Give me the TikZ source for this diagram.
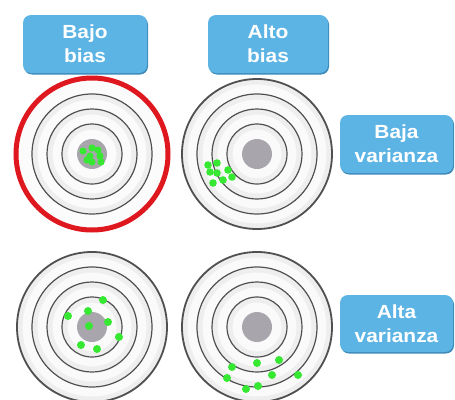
\documentclass[tikz,border=0pt]{standalone}
\usepackage{fontspec}
\newfontfamily\lblfont[FakeStretch=1.1]{Liberation Sans}
\usetikzlibrary{shadows}
\definecolor{boxblue}{RGB}{92,180,228}
\definecolor{boxshade}{RGB}{62,138,185}
\definecolor{dotgreen}{RGB}{55,232,50}
\definecolor{ringred}{RGB}{222,24,30}
\definecolor{ringgray}{RGB}{80,80,82}
\definecolor{bullgray}{RGB}{168,166,172}
\tikzset{
  lbl/.style={rounded corners=8pt, fill=boxblue, text=white, align=center,
    font=\lblfont\bfseries\fontsize{19}{24}\selectfont, inner sep=0pt,
    drop shadow={shadow xshift=1pt, shadow yshift=-1.5pt, fill=boxshade, opacity=1}},
  ringline/.style={ringgray, line width=1.2pt},
  ringshade/.style={gray!13, line width=5pt},
  dot/.style={fill=dotgreen},
  innerrings/.pic={
    \foreach \r in {60,45,30} {
      \draw[ringshade] (0,0) circle (\r pt - 3pt);
      \draw[ringline] (0,0) circle (\r pt);
    }
    \fill[bullgray] (0,0) circle (15pt);
  },
  target/.pic={
    \fill[gray!4] (0,0) circle (76pt);
    \draw[ringshade] (0,0) circle (72pt);
    \pic {innerrings};
    \draw[ringgray, line width=1.8pt] (0,0) circle (75pt);
  },
  redtarget/.pic={
    \fill[gray!3] (0,0) circle (76pt);
    \pic {innerrings};
    \draw[ringred, line width=5pt] (0,0) circle (76pt);
  }
}
\begin{document}
\begin{tikzpicture}[x=1pt,y=-1pt]
\useasboundingbox (0,0) rectangle (455,399);
\clip (0,0) rectangle (455,399);
\fill[white] (0,0) rectangle (455,399);

\coordinate (tl) at (92,154);
\coordinate (tr) at (257,154);
\coordinate (bl) at (92,327);
\coordinate (br) at (257,327);

\pic at (tl) {redtarget};
\pic at (tr) {target};
\pic at (bl) {target};
\pic at (br) {target};

% dots
\foreach \dx/\dy in {-9/-3,0/-6,6/-4,-2/2,8/2,0/8,9/8,-5/6}
  \fill[dot] (tl) ++(\dx,\dy) circle (3.6pt);
\foreach \dx/\dy in {-49/11,-40/9,-47/18,-40/19,-29/16,-34/26,-44/29,-25/23}
  \fill[dot] (tr) ++(\dx,\dy) circle (3.8pt);
\foreach \dx/\dy in {11/-27,-4/-16,-24/-11,16/-5,-3/-1,27/10,-11/18,5/22}
  \fill[dot] (bl) ++(\dx,\dy) circle (4pt);
\foreach \dx/\dy in {-25/40,0/36,22/33,-30/51,15/48,41/48,1/59,-11/62}
  \fill[dot] (br) ++(\dx,\dy) circle (4pt);

% labels
\node[lbl, minimum width=124pt, minimum height=58pt] (bajobias) at (85,44) {Bajo\\bias};
\node[lbl, minimum width=120pt, minimum height=58pt] (altobias) at (268,44) {Alto\\bias};
\node[lbl, minimum width=113pt, minimum height=58pt] (bajavar) at (396.5,144) {Baja\\varianza};
\node[lbl, minimum width=113pt, minimum height=57pt] (altavar) at (396.5,323.5) {Alta\\varianza};
\end{tikzpicture}
\end{document}
